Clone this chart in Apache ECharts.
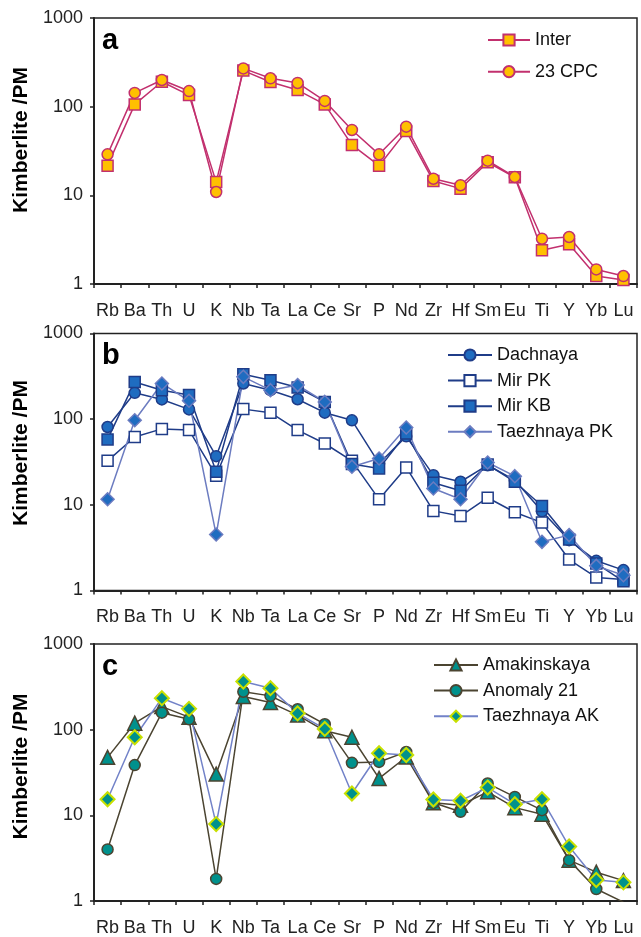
<!DOCTYPE html>
<html>
<head>
<meta charset="utf-8">
<script src="https://cdn.jsdelivr.net/npm/echarts@6/dist/echarts.min.js"></script>
<style>
html,body{margin:0;padding:0;background:#fff;}
#chart{width:641px;height:937px;}
</style>
</head>
<body>
<div id="chart"></div>
<script>
const categories = ['Rb','Ba','Th','U','K','Nb','Ta','La','Ce','Sr','P','Nd','Zr','Hf','Sm','Eu','Ti','Y','Yb','Lu'];
const yTicks = [1, 10, 100, 1000];

// Panel a
const inter = [21.6,106,191,135,14.1,255,190,154,106,37,21.6,53,14.5,11.9,23.6,16,2.4,2.8,1.23,1.11];
const cpc23 = [29,143,200,150,10.9,270,209,185,116,54.6,29,59.5,15.4,13,24.6,16.1,3.24,3.39,1.46,1.23];

// Panel b
const dachnaya = [81,203,170,130,37,261,218,171,119,97,30.4,63,22.2,18.6,29,19.4,8.4,3.87,2.22,1.73];
const mirPK = [32.6,62,77,74.5,21.9,131,119,74.5,52,32.6,11.6,27.3,8.5,7.4,12.1,8.2,6.2,2.3,1.42,1.34];
const mirKB = [58,272,218,191,24.3,335,285,234,159,30,26.6,68,18.1,14.6,29.5,18.6,9.7,3.94,2.07,1.28];
const taezhPK = [11.6,97,261,164,4.5,312,218,250,159,27.8,34.8,80,15.5,11.6,31.2,21.6,3.7,4.43,1.94,1.51];

// Panel c
const amak = [47.5,119,186,140,30.3,244,207,148,97,81.5,27,48,14,13.1,18.8,12.3,10.3,3.0,2.17,1.73];
const anom21 = [4.0,38.6,158,132,1.81,277,248,173,116,41,42,55,14,11,23.6,16.4,11.5,3.0,1.38,0.97];
const taezhAK = [15.4,81.5,233,175,7.9,365,305,155,102,18,53,50.6,15.3,14.8,21.1,13.5,15.4,4.33,1.76,1.65];

const FONT = '"Liberation Sans", Arial, sans-serif';
const grids = [
  {left:94, top:18, width:543, height:266},
  {left:94, top:333.5, width:543, height:257},
  {left:94, top:644, width:543, height:257}
];

function xAx(i){
  return {
    type:'category', gridIndex:i, data:categories, boundaryGap:true,
    axisLine:{lineStyle:{color:'#222', width:2}},
    axisTick:{show:true, alignWithLabel:false, length:4, lineStyle:{color:'#222', width:1.5}},
    axisLabel:{interval:0, margin:18, color:'#222', fontSize:18, fontFamily:FONT},
    splitLine:{show:false}
  };
}
function yAx(i){
  return {
    type:'log', logBase:10, gridIndex:i, min:yTicks[0], max:yTicks[yTicks.length-1],
    axisLine:{show:true, lineStyle:{color:'#222', width:2}},
    axisTick:{show:true, length:4, lineStyle:{color:'#222', width:1.5}},
    minorTick:{show:false},
    axisLabel:{margin:11, color:'#222', fontSize:18, fontFamily:FONT, formatter:v=>String(Math.round(v))},
    splitLine:{show:false}
  };
}
function ser(name, data, gi, symbol, size, lineColor, fill, border, bw){
  return {
    name, type:'line', data, xAxisIndex:gi, yAxisIndex:gi,
    symbol, symbolSize:size, showAllSymbol:true, clip:true,
    lineStyle:{color:lineColor, width:1.5},
    itemStyle:{color:fill, borderColor:border, borderWidth:bw||1.5},
    emphasis:{disabled:true}, animation:false
  };
}
const magenta = '#c2306e', gold = '#ffc000';
const navy = '#1f3c88', blue = '#1f6cc0', lav = '#6c7cc0';
const olive = '#4b4431', teal = '#00918c', lime = '#c8e000', lav2 = '#7282c8';

const series = [
  ser('Inter', inter, 0, 'rect', 11, magenta, gold, magenta),
  ser('23 CPC', cpc23, 0, 'circle', 11, magenta, gold, magenta),
  ser('Dachnaya', dachnaya, 1, 'circle', 11, navy, blue, navy),
  ser('Mir PK', mirPK, 1, 'rect', 11, navy, '#ffffff', navy),
  ser('Mir KB', mirKB, 1, 'rect', 11, navy, blue, navy),
  ser('Taezhnaya PK', taezhPK, 1, 'diamond', 13, lav, blue, lav),
  ser('Amakinskaya', amak, 2, 'triangle', 14, olive, teal, olive),
  ser('Anomaly 21', anom21, 2, 'circle', 11, olive, teal, olive),
  ser('Taezhnaya AK', taezhAK, 2, 'diamond', 14, lav2, teal, lime, 2)
];

function leg(names, left, top, w, gap){
  return {
    data:names, orient:'vertical', left, top, padding:0, itemWidth:w, itemHeight:14, itemGap:gap,
    textStyle:{fontSize:18, color:'#111', fontFamily:FONT}, selectedMode:false
  };
}

const chart = echarts.init(document.getElementById('chart'), null, {renderer:'canvas'});
chart.setOption({
  animation:false,
  backgroundColor:'#fff',
  grid: grids.map(g=>Object.assign({show:true, borderColor:'#222', borderWidth:1.5, backgroundColor:'transparent'}, g)),
  xAxis:[xAx(0), xAx(1), xAx(2)],
  yAxis:[yAx(0), yAx(1), yAx(2)],
  legend:[
    leg(['Inter','23 CPC'], 487, 31, 42, 13.7),
    leg(['Dachnaya','Mir PK','Mir KB','Taezhnaya PK'], 447, 346, 44, 7.6),
    leg(['Amakinskaya','Anomaly 21','Taezhnaya AK'], 433, 656, 44, 7.6)
  ],
  graphic:[
    {type:'text', left:102, top:26, style:{text:'a', font:'bold 29px '+FONT, fill:'#000'}},
    {type:'text', left:102, top:341, style:{text:'b', font:'bold 29px '+FONT, fill:'#000'}},
    {type:'text', left:102, top:652, style:{text:'c', font:'bold 29px '+FONT, fill:'#000'}},
    {type:'text', x:21.5, y:140, rotation:Math.PI/2, style:{text:'Kimberlite /PM', font:'bold 21px '+FONT, fill:'#000', align:'center', verticalAlign:'middle'}},
    {type:'text', x:21.5, y:453, rotation:Math.PI/2, style:{text:'Kimberlite /PM', font:'bold 21px '+FONT, fill:'#000', align:'center', verticalAlign:'middle'}},
    {type:'text', x:21.5, y:766.5, rotation:Math.PI/2, style:{text:'Kimberlite /PM', font:'bold 21px '+FONT, fill:'#000', align:'center', verticalAlign:'middle'}}
  ],
  series
});
</script>
</body>
</html>
